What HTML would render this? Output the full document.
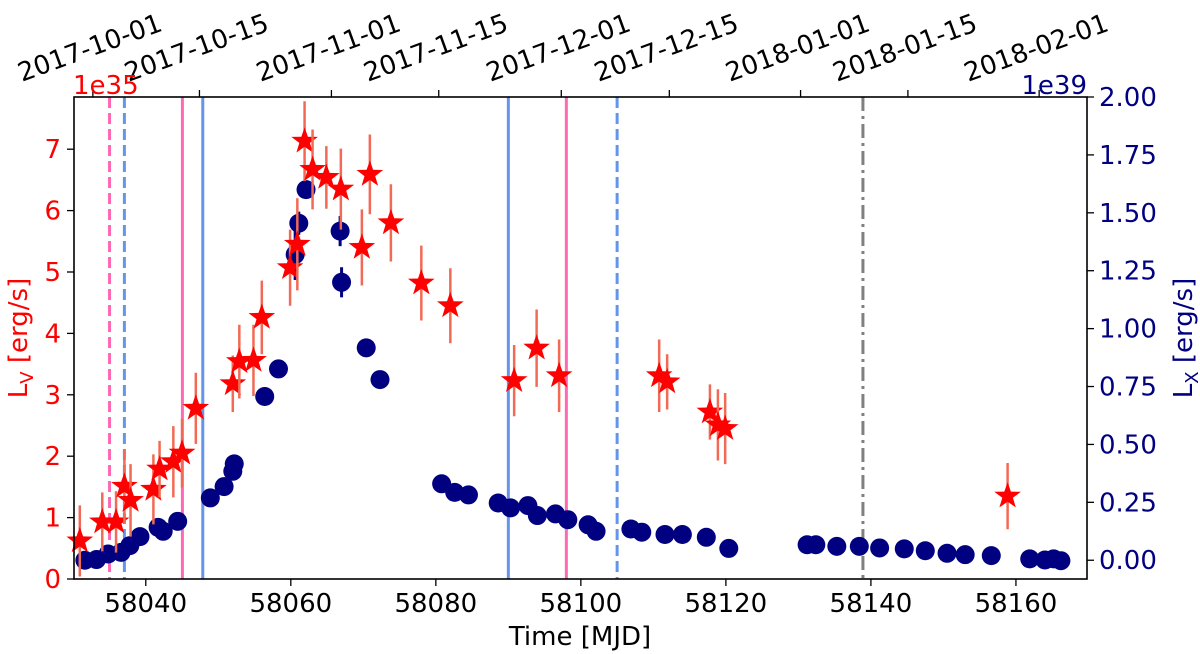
<!DOCTYPE html>
<html><head><meta charset="utf-8">
<style>
html,body{margin:0;padding:0;background:#fff;}
svg{display:block;font-family:"DejaVu Sans","Liberation Sans",sans-serif;}
</style></head>
<body>
<svg id="chart" width="1200" height="654" viewBox="0 0 1200 654" xmlns="http://www.w3.org/2000/svg">
<rect width="1200" height="654" fill="#fff"/>
<g id="vlines"></g>
<g id="marks"></g>
<g id="axes"></g>
</svg>
<script>
// ---- data ----
const optMjd = [58030.9,58034.0,58035.9,58037.05,58037.9,58041.05,58041.9,58043.8,58045.0,58046.9,58052.0,58052.9,58054.85,58056.0,58059.9,58060.9,58061.9,58063.0,58064.9,58066.9,58069.8,58070.9,58073.8,58078.0,58082.0,58090.8,58093.9,58097.0,58110.8,58111.9,58117.8,58118.9,58119.9,58158.85];
const optLum = [0.62,0.93,0.93,1.51,1.28,1.46,1.79,1.91,2.05,2.78,3.18,3.54,3.56,4.26,5.07,5.45,7.13,6.67,6.54,6.35,5.40,6.59,5.80,4.82,4.45,3.23,3.76,3.31,3.31,3.21,2.72,2.51,2.45,1.35];
const optErr = [0.58,0.48,0.5,0.6,0.59,0.57,0.46,0.58,0.56,0.58,0.46,0.6,0.58,0.6,0.62,0.75,0.65,0.65,0.51,0.66,0.62,0.65,0.63,0.61,0.61,0.58,0.63,0.59,0.59,0.45,0.45,0.58,0.58,0.54];
const xMjd = [58031.6,58033.2,58034.8,58036.6,58037.8,58039.2,58041.7,58042.4,58044.4,58048.9,58050.8,58052.0,58052.2,58056.4,58058.3,58060.6,58061.1,58062.1,58066.8,58067.0,58070.4,58072.3,58080.8,58082.6,58084.5,58088.6,58090.3,58092.7,58094.0,58096.5,58098.2,58101.0,58102.1,58106.9,58108.4,58111.6,58114.0,58117.3,58120.4,58131.2,58132.4,58135.3,58138.4,58141.2,58144.6,58147.5,58150.5,58153.0,58156.6,58161.9,58164.0,58165.2,58166.2];
const xLum = [0.0,0.003,0.027,0.034,0.063,0.102,0.142,0.125,0.168,0.269,0.318,0.384,0.416,0.707,0.826,1.32,1.455,1.6,1.421,1.2,0.917,0.78,0.33,0.293,0.282,0.247,0.226,0.236,0.193,0.2,0.175,0.153,0.125,0.135,0.121,0.111,0.111,0.099,0.051,0.067,0.067,0.06,0.06,0.053,0.049,0.041,0.03,0.024,0.02,0.006,0.001,0.006,-0.002];
const xErr = [0,0,0,0,0,0,0,0,0,0,0,0,0,0,0,0.11,0.05,0.03,0.065,0.065,0,0,0,0,0,0,0,0,0,0,0,0,0,0,0,0,0,0,0,0,0,0,0,0,0,0,0,0,0,0,0,0,0];
const bottomTicks = [58040,58060,58080,58100,58120,58140,58160];
const leftTicks = [0,1,2,3,4,5,6,7];
const rightTicks = [0,0.25,0.5,0.75,1.0,1.25,1.5,1.75,2.0];
const topLabels = ["2017-10-01","2017-10-15","2017-11-01","2017-11-15","2017-12-01","2017-12-15","2018-01-01","2018-01-15","2018-02-01"];
const topMjd = [58032.7,58047.4,58065.6,58080.4,58097.3,58112.2,58130.3,58145.1,58163.2];
const vlineMjd = [58035.0,58037.05,58045.05,58047.86,58090.0,58098.0,58105.0,58138.9];
const vlineKind = ["pinkdash","bluedash","pink","blue","blue","pink","bluedash","greydashdot"];

// ---- axes ----
const L=74,R=1087,T=97,B=579;
const xmin=58030.1,xmax=58169.8;
const sx=d=>L+(d-xmin)/(xmax-xmin)*(R-L);
const syL=v=>B-v/7.85*(B-T);
const syR=v=>B-(v+0.081)/2.081*(B-T);
const NS="http://www.w3.org/2000/svg";
function el(tag,attrs,parent,txt){const e=document.createElementNS(NS,tag);for(const k in attrs)e.setAttribute(k,attrs[k]);if(txt!==undefined)e.textContent=txt;parent.appendChild(e);return e;}
const vg=document.getElementById('vlines'),mg=document.getElementById('marks'),ag=document.getElementById('axes');

const styles={pinkdash:{s:'#ff69b4',d:'11,5'},bluedash:{s:'#6495ed',d:'11,5'},pink:{s:'#ff69b4',d:''},blue:{s:'#6495ed',d:''},greydashdot:{s:'#808080',d:'14,5,3,5'}};
vlineMjd.forEach((m,i)=>{const st=styles[vlineKind[i]];
 const ln=el('line',{x1:sx(m),x2:sx(m),y1:T,y2:B,stroke:st.s,'stroke-width':3,'stroke-dasharray':st.d},vg);
 
 });

xMjd.forEach((m,i)=>{const x=sx(m),y=syR(xLum[i]);
 if(xErr[i]>0){const e=el('line',{x1:x,x2:x,y1:syR(xLum[i]+xErr[i]),y2:syR(xLum[i]-xErr[i]),stroke:'#000080','stroke-width':3},mg);
  
  }
 const c=el('circle',{cx:x,cy:y,r:9.5,fill:'#000080'},mg);
 
 });

function starPath(cx,cy,r){let p='';for(let k=0;k<10;k++){const rr=k%2?r*0.4:r;const a=-Math.PI/2+k*Math.PI/5;p+=(k?'L':'M')+(cx+rr*Math.cos(a)).toFixed(1)+','+(cy+rr*Math.sin(a)).toFixed(1);}return p+'Z';}
optMjd.forEach((m,i)=>{const x=sx(m),y=syL(optLum[i]);
 const e=el('line',{x1:x,x2:x,y1:syL(optLum[i]+optErr[i]),y2:syL(optLum[i]-optErr[i]),stroke:'#f26a55','stroke-width':2.5},mg);
 
 
 const s=el('path',{d:starPath(x,y,14),fill:'#ff0000'},mg);
 
 });

const fr=el('rect',{x:L,y:T,width:R-L,height:B-T,fill:'none',stroke:'#000','stroke-width':1.6},ag);



const FS=26;
bottomTicks.forEach(t=>{const x=sx(t);el('line',{x1:x,x2:x,y1:B,y2:B+7,stroke:'#000','stroke-width':1.3},ag);
 const tx=el('text',{x:x,y:B+33,'text-anchor':'middle','font-size':FS,fill:'#000'},ag,String(t));
 
 });
leftTicks.forEach(t=>{const y=syL(t);el('line',{x1:L,x2:L-7,y1:y,y2:y,stroke:'#000','stroke-width':1.3},ag);
 const tx=el('text',{x:L-13,y:y+9,'text-anchor':'end','font-size':FS,fill:'#ff0000'},ag,String(t));
 
 });
rightTicks.forEach(t=>{const y=syR(t);el('line',{x1:R,x2:R+7,y1:y,y2:y,stroke:'#000','stroke-width':1.3},ag);
 const tx=el('text',{x:R+12,y:y+9,'text-anchor':'start','font-size':FS,fill:'#000080'},ag,t.toFixed(2));
 
 });
topMjd.forEach((m,i)=>{const x=sx(m);el('line',{x1:x,x2:x,y1:T,y2:T-7,stroke:'#000','stroke-width':1.3},ag);
 const tx=el('text',{x:0,y:0,'text-anchor':'middle','font-size':26,fill:'#000',transform:`translate(${x},${T-41}) rotate(-20)`},ag,topLabels[i]);
 
 });

let t;
t=el('text',{x:73,y:94,'font-size':FS,fill:'#ff0000'},ag,'1e35');


t=el('text',{x:1087,y:94,'text-anchor':'end','font-size':FS,fill:'#000080'},ag,'1e39');


t=el('text',{x:580,y:645,'text-anchor':'middle','font-size':FS,fill:'#000'},ag,'Time [MJD]');


t=el('text',{x:0,y:0,'text-anchor':'middle','font-size':FS,fill:'#ff0000',transform:'translate(27,338) rotate(-90)'},ag);


t.innerHTML='L<tspan font-size="18" dy="6">V</tspan><tspan dy="-6"> [erg/s]</tspan>';
t=el('text',{x:0,y:0,'text-anchor':'middle','font-size':FS,fill:'#000080',transform:'translate(1192,338) rotate(-90)'},ag);


t.innerHTML='L<tspan font-size="18" dy="6">X</tspan><tspan dy="-6"> [erg/s]</tspan>';
</script>
</body></html>
